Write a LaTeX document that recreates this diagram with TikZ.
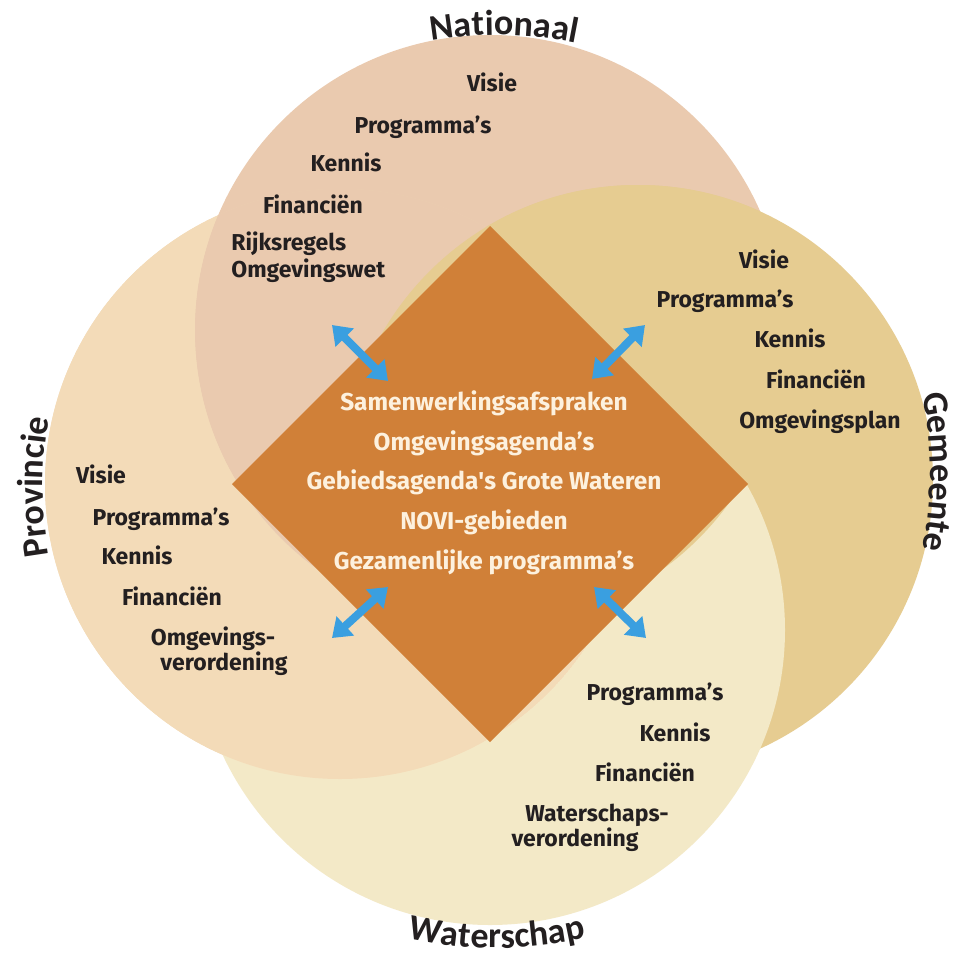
\documentclass[tikz,border=0pt]{standalone}
\usepackage{fontspec}
\setmainfont{Fira Sans}
\newfontfamily\labelfont{Carlito}
\usetikzlibrary{arrows.meta,decorations.text}
\definecolor{topcol}{HTML}{EACAAF}
\definecolor{leftcol}{HTML}{F3DBB8}
\definecolor{rightcol}{HTML}{E6CC91}
\definecolor{botcol}{HTML}{F3E9C7}
\definecolor{diacol}{HTML}{D08038}
\definecolor{arrcol}{HTML}{3A9FE0}
\definecolor{txtcol}{HTML}{231F20}
\definecolor{ctxt}{HTML}{FDF1DE}
\begin{document}
\begin{tikzpicture}[x=0.5pt,y=-0.5pt,
  item/.style={font=\bfseries\fontsize{11.5}{13}\selectfont, text=txtcol, inner sep=0pt, anchor=base},
  citem/.style={item, font=\bfseries\fontsize{12.2}{14}\selectfont, text=ctxt},
  twoway/.style={line width=4pt, draw=arrcol, {Triangle[length=9pt,width=12.5pt]}-{Triangle[length=9pt,width=12.5pt]}},
  ring/.style={decorate, decoration={text along path, text align=center, text color=txtcol, text={|\labelfont\bfseries\fontsize{18}{20}\selectfont|#1}}}
]
\fill[white] (0,0) rectangle (957,958);
\useasboundingbox (0,0) rectangle (957,958);
% circle centres
\coordinate (cT) at (490,330);
\coordinate (cL) at (340,484);
\coordinate (cR) at (638,480);
\coordinate (cB) at (490,630);
\def\rad{295}
% circles (cyclic overlap: top over left, right over top, bottom over right, left over bottom)
\fill[leftcol] (cL) circle[radius=\rad];
\fill[topcol] (cT) circle[radius=\rad];
\fill[rightcol] (cR) circle[radius=\rad];
\fill[botcol] (cB) circle[radius=\rad];
\begin{scope}
  \clip (cL) circle[radius=\rad];
  \fill[leftcol, even odd rule] (cL) circle[radius=\rad] (cT) circle[radius=\rad];
\end{scope}
\begin{scope}
  \clip (cT) circle[radius=\rad];
  \fill[topcol] (cL) circle[radius=\rad];
  \fill[rightcol] (cR) circle[radius=\rad];
\end{scope}
% diamond
\fill[diacol] (490,226) -- (748,484) -- (490,742) -- (232,484) -- cycle;
% ring labels
\coordinate (lT) at (497,435);
\coordinate (lB) at (497,548);
\coordinate (lL) at (443,487);
\coordinate (lR) at (530,472);
\path[ring=Nationaal] (lT) ++(252:400) arc[start angle=252, end angle=290, radius=400];
\path[ring=Waterschap] (lB) ++(108:400) arc[start angle=108, end angle=72, radius=400];
\path[ring=Provincie] (lL) ++(162:400) arc[start angle=162, end angle=198, radius=400];
\path[ring=Gemeente] (lR) ++(-18:400) arc[start angle=-18, end angle=18, radius=400];
% Nationaal items
\node[item] (n1) at (492,91) {Visie};
\node[item] (n2) at (423,133) {Programma’s};
\node[item] (n3) at (346,171) {Kennis};
\node[item] (n4) at (313,213) {Financiën};
\node[item, anchor=west, align=left, font=\bfseries\fontsize{11.5}{13.5}\selectfont] (n5) at (231,257) {Rijksregels\\Omgevingswet};
% Gemeente items
\node[item] (g1) at (764,268) {Visie};
\node[item] (g2) at (725,307) {Programma’s};
\node[item] (g3) at (790,347) {Kennis};
\node[item] (g4) at (816,388) {Financiën};
\node[item] (g5) at (820,428) {Omgevingsplan};
% Provincie items
\node[item] (p1) at (101,483) {Visie};
\node[item] (p2) at (161,525) {Programma’s};
\node[item] (p3) at (137,564) {Kennis};
\node[item] (p4) at (172,605) {Financiën};
\node[item] (p5) at (213,645) {Omgevings-};
\node[item] (p6) at (224,670) {verordening};
% Waterschap items
\node[item] (w1) at (655,700) {Programma’s};
\node[item] (w2) at (675,741) {Kennis};
\node[item] (w3) at (645,781) {Financiën};
\node[item] (w4) at (597,821) {Waterschaps-};
\node[item] (w5) at (575,846) {verordening};
% centre items
\node[citem] (c1) at (484,410) {Samenwerkingsafspraken};
\node[citem] (c2) at (484,450) {Omgevingsagenda’s};
\node[citem] (c3) at (484,489) {Gebiedsagenda\textquotesingle s Grote Wateren};
\node[citem] (c4) at (484,529) {NOVI-gebieden};
\node[citem] (c5) at (484,569) {Gezamenlijke programma’s};
% arrows
\coordinate (a1s) at (332,325); \coordinate (a1e) at (388,381);
\coordinate (a2s) at (645,325); \coordinate (a2e) at (592,379);
\coordinate (a3s) at (332,638); \coordinate (a3e) at (388,587);
\coordinate (a4s) at (646,638); \coordinate (a4e) at (594,587);
\draw[twoway] (a1s) -- (a1e);
\draw[twoway] (a2s) -- (a2e);
\draw[twoway] (a3s) -- (a3e);
\draw[twoway] (a4s) -- (a4e);
\end{tikzpicture}
\end{document}
